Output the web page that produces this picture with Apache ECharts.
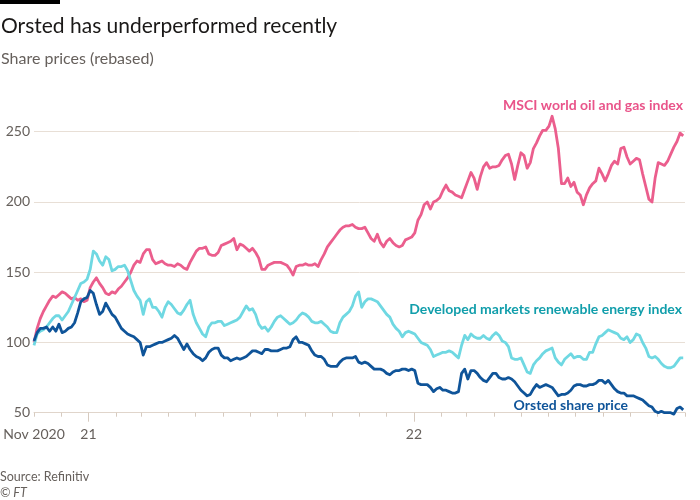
<!DOCTYPE html>
<html><head><meta charset="utf-8">
<script src="https://cdn.jsdelivr.net/npm/echarts@6/dist/echarts.min.js"></script>
<style>html,body{margin:0;padding:0;background:#fff}#c{width:700px;height:500px}</style>
</head><body><div id="c"></div>
<script>
// Observations: twice weekly (every 3.5 days) from 1 Nov 2020 to 30 Oct 2022
const firstObservation = '2020-11-01';
const observationStepDays = 3.5;

const msci = [
100,110,117,122,126,130,133,132,134,136,
135,133,131,132,130,131,129,130,139,143,
146,142,139,135,134,136,135,138,140,143,
146,150,155,158,157,163,166,166,159,156,
157,158,156,155,155,154,156,155,153,152,
157,161,165,167,167,168,163,162,162,164,
169,170,171,172,174,166,170,169,167,165,
167,164,160,152,152,155,156,157,157,157,
156,155,152,148,154,155,155,156,155,155,
156,154,159,163,168,171,174,177,180,182,
183,183,184,182,181,181,182,178,174,172,
177,171,168,172,174,171,169,168,169,173,
174,175,178,187,191,198,200,195,200,201,
203,208,212,208,207,205,204,203,209,215,
221,217,209,218,225,228,224,225,225,226,
230,233,234,227,216,226,235,233,224,228,
238,242,247,251,251,254,261,252,238,213,
213,217,211,214,207,205,198,205,210,213,
215,224,220,215,220,226,229,227,238,239,
232,227,229,231,230,220,211,202,200,217,
228,227,226,229,234,239,243,249,247];
const renewables = [
98,106,108,109,111,114,117,119,119,116,
119,122,127,132,137,142,143,145,152,165,
163,158,155,161,159,151,152,154,154,155,
151,144,137,133,130,120,129,131,125,125,
122,118,125,129,127,124,121,120,123,127,
130,120,114,110,106,104,111,114,114,115,
115,112,113,114,115,116,118,122,126,123,
124,120,113,110,111,108,111,115,118,119,
117,115,113,114,116,119,121,120,118,115,
114,114,115,113,111,108,107,107,114,118,
120,122,126,133,136,125,129,131,131,130,
129,126,123,120,118,113,110,108,104,107,
108,107,106,103,100,99,98,95,90,91,
92,93,93,94,93,91,89,98,105,102,
106,104,103,103,105,103,102,105,107,105,
101,100,97,89,88,88,89,84,79,78,
84,87,89,92,94,95,96,89,86,84,
88,90,92,89,90,90,88,88,93,93,
99,104,105,107,109,108,107,106,103,102,
104,100,102,106,105,100,96,90,89,90,
88,85,83,82,82,83,86,89,89];
const orsted = [
101,107,110,110,111,108,111,108,113,107,
108,110,111,114,121,129,131,132,137,135,
127,120,122,128,124,120,118,114,110,108,
106,105,104,102,100,91,97,97,98,99,
100,100,101,102,103,105,103,99,95,99,
95,92,90,89,87,89,93,95,96,96,
91,89,89,87,88,89,88,89,90,92,
94,94,93,92,95,95,94,94,94,95,
96,96,97,102,104,100,100,99,98,94,
91,90,90,88,84,83,83,83,86,88,
89,89,89,90,86,85,86,85,83,81,
81,81,80,78,77,79,80,80,81,81,
80,81,80,71,70,70,70,68,65,67,
68,66,66,65,64,64,65,78,81,74,
80,80,78,75,73,72,75,78,78,75,
74,74,75,74,72,69,66,64,62,63,
67,70,68,69,70,69,68,65,62,63,
63,64,66,69,70,70,69,69,70,70,
71,73,73,71,73,70,67,65,64,64,
62,62,62,61,60,59,57,55,54,51,
50,51,50,50,50,49,53,54,52];

const monthTicks = ['2020-11-01','2020-12-01','2021-01-01','2021-02-01','2021-03-01','2021-04-01','2021-05-01','2021-06-01','2021-07-01','2021-08-01','2021-09-01','2021-10-01','2021-11-01','2021-12-01','2022-01-01','2022-02-01','2022-03-01','2022-04-01','2022-05-01','2022-06-01','2022-07-01','2022-08-01','2022-09-01','2022-10-01','2022-11-01'];
const yearTicks = ['2021-01-01','2022-01-01'];
const xLabelDates = ['2020-11-01','2021-01-01','2022-01-01'];
const xLabelText = ['Nov 2020','21','22'];
const yTicks = [50,100,150,200,250];

const DAY = 86400000;
const t = s => { const p = s.split('-').map(Number); return Date.UTC(p[0], p[1]-1, p[2]); };
const obsTime = i => t(firstObservation) + i * observationStepDays * DAY;
const xMin = t(monthTicks[0]), xMax = t(monthTicks[monthTicks.length-1]);
const labelMap = {}; xLabelDates.forEach((d,i)=>{ labelMap[t(d)] = xLabelText[i]; });

const FONT = 'Lato';
const GRID = '#e8dfd6';
const AXC = '#66605c';
const chart = echarts.init(document.getElementById('c'), null, {renderer:'canvas'});
const mk = (arr) => arr.map((v,i)=>[obsTime(i), v]);
chart.setOption({
  backgroundColor:'#ffffff',
  animation:false,
  textStyle:{fontFamily:FONT},
  grid:{left:34, right:15, top:131.7, bottom:87.3, containLabel:false},
  xAxis:[{
    type:'value', min:xMin, max:xMax, position:'bottom', scale:true,
    axisLine:{show:true, onZero:false, lineStyle:{color:'#e0d5cb', width:1}},
    axisTick:{show:true, customValues:monthTicks.map(t), length:4, lineStyle:{color:'#d6cabf'}},
    axisLabel:{show:false}, splitLine:{show:false}
  },{
    type:'value', min:xMin, max:xMax, position:'bottom', scale:true,
    axisLine:{show:false, onZero:false},
    axisTick:{show:true, customValues:yearTicks.map(t), length:9, lineStyle:{color:'#d6cabf'}},
    axisLabel:{show:true, customValues:xLabelDates.map(t), formatter:v=>labelMap[v]||'', color:AXC, fontSize:14, fontFamily:FONT, margin:15},
    splitLine:{show:false}
  }],
  yAxis:{
    type:'value', min:yTicks[0], max:yTicks[yTicks.length-1], interval:50,
    axisLine:{show:false}, axisTick:{show:false},
    axisLabel:{color:AXC, fontSize:14, fontFamily:FONT, margin:4},
    splitLine:{lineStyle:{color:GRID, width:1}}
  },
  series:[
    {type:'line', name:'MSCI world oil and gas index', data:mk(msci), showSymbol:false, clip:false, lineStyle:{color:'#eb5e8d', width:2.8, join:'round'}, itemStyle:{color:'#eb5e8d'}},
    {type:'line', name:'Developed markets renewable energy index', data:mk(renewables), showSymbol:false, clip:false, lineStyle:{color:'#6fd8e2', width:2.8, join:'round'}, itemStyle:{color:'#6fd8e2'}},
    {type:'line', name:'Orsted share price', data:mk(orsted), showSymbol:false, clip:false, lineStyle:{color:'#0f5499', width:2.8, join:'round'}, itemStyle:{color:'#0f5499'}}
  ],
  graphic:[
    {type:'rect', left:0, top:0, shape:{width:60, height:4}, style:{fill:'#000'}},
    {type:'text', x:1, y:26, style:{text:'Orsted has underperformed recently', fontSize:21, fontFamily:FONT, fill:'#1a1817', verticalAlign:'middle'}},
    {type:'text', x:1, y:59, style:{text:'Share prices (rebased)', fontSize:16, fontFamily:FONT, fill:'#66605c', verticalAlign:'middle'}},
    {type:'text', x:683, y:105, style:{text:'MSCI world oil and gas index', fontSize:14, fontWeight:'bold', fontFamily:FONT, fill:'#e9548a', align:'right', verticalAlign:'middle'}},
    {type:'text', x:682, y:309, style:{text:'Developed markets renewable energy index', fontSize:14, fontWeight:'bold', fontFamily:FONT, fill:'#119eab', align:'right', verticalAlign:'middle'}},
    {type:'text', x:628, y:405, style:{text:'Orsted share price', fontSize:14, fontWeight:'bold', fontFamily:FONT, fill:'#0f5499', align:'right', verticalAlign:'middle'}},
    {type:'text', x:0, y:477, style:{text:'Source: Refinitiv', fontSize:12.5, fontFamily:FONT, fill:'#66605c', verticalAlign:'middle'}},
    {type:'text', x:0, y:493, style:{text:'© FT', fontSize:12.5, fontStyle:'italic', fontFamily:FONT, fill:'#66605c', verticalAlign:'middle'}}
  ]
});
</script></body></html>
